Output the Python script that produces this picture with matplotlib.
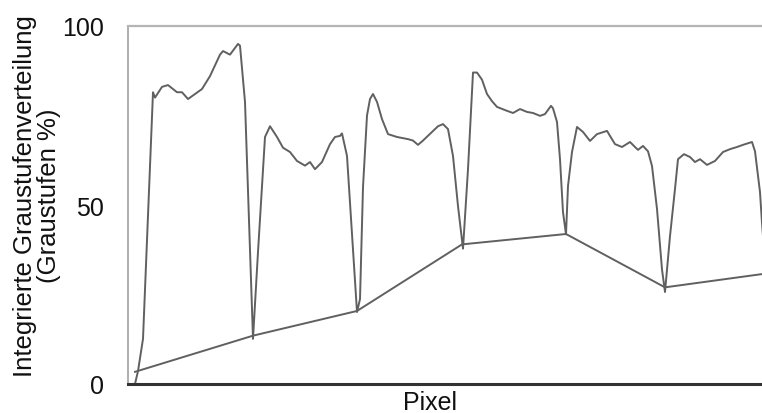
import matplotlib
matplotlib.use("Agg")
import matplotlib.pyplot as plt

plt.rcParams['font.family'] = ['Liberation Sans', 'DejaVu Sans']

# Line profile (pixel position, integrated gray level %)
pixel = [0, 7, 10, 15, 25, 27, 34, 40, 49, 54, 60, 74, 82, 92, 95, 102, 110, 112,
         117, 125, 130, 137, 142, 149, 155, 162, 169, 177, 182, 187, 194, 202, 207,
         212, 214, 219, 229, 232, 235, 239, 242, 245, 249, 254, 260, 269, 280, 285,
         290, 295, 304, 310, 315, 320, 325, 330, 335, 340, 345, 349, 354, 359, 364,
         369, 379, 385, 392, 399, 405, 412, 417, 423, 425, 429, 432, 435, 438, 440,
         444, 449, 455, 462, 469, 479, 482, 487, 494, 502, 507, 510, 515, 520, 524,
         529, 534, 537, 542, 547, 550, 556, 562, 567, 572, 579, 587, 595, 602, 609,
         615, 624, 627, 632, 634, 638]
gray = [0, 0, 3.6, 12.6, 81.5, 80, 83, 83.5, 81.5, 81.5, 79.6, 82.4, 86, 92, 93, 92,
        95, 94.5, 78.8, 12.6, 36.9, 69, 72, 69, 66, 64.8, 62.3, 61, 62, 60, 62, 67,
        69, 69.3, 70, 63.7, 20.1, 23.7, 55, 75, 79.6, 81, 78.8, 74, 69.8, 69, 68.4,
        68, 66.8, 68, 70.4, 72, 72.6, 71.2, 63.7, 49.7, 37.8, 60, 87, 87, 85, 81, 79,
        77.4, 76.3, 75.7, 76.8, 76, 75.7, 74.9, 75.4, 77.7, 77, 73.2, 62.8, 48, 41.8,
        55.3, 64.8, 71.8, 70.4, 67.9, 69.8, 70.7, 69.3, 67, 66.2, 67.6, 66.2, 65.4,
        66.5, 65, 60.9, 48.9, 32, 25.7, 41.3, 54.5, 62.8, 64.2, 63.4, 62, 62.8, 61.2,
        62.3, 64.8, 65.6, 66.2, 66.8, 67.6, 65, 53.6, 45, 30]

# Baseline connecting the minima
base_pixel = [7, 125, 229, 334, 438, 537, 634]
base_gray = [3.4, 13.5, 20.4, 39, 41.9, 27, 30.7]

yticks = [0, 50, 100]
ylabel = "Integrierte Graustufenverteilung\n(Graustufen %)"
xlabel = "Pixel"

fig = plt.figure(figsize=(7.62, 4.14), dpi=100)
ax = fig.add_axes([128/762, 1 - 385/414, 634/762, 358/414])

line_color = "#606060"
ax.plot(pixel, gray, color=line_color, lw=1.4)
ax.plot(base_pixel, base_gray, color=line_color, lw=1.4)

ax.set_xlim(0, 634)
ax.set_ylim(0, 100)
ax.set_xticks([])
ax.set_yticks(yticks)
ax.set_yticklabels([str(t) for t in yticks], fontsize=18)
ax.tick_params(axis='y', length=0, pad=17, labelcolor="#111111")

ax.spines['right'].set_visible(False)
ax.spines['top'].set_color("#b5b5b5")
ax.spines['top'].set_linewidth(1.6)
ax.spines['left'].set_color("#a8a8a8")
ax.spines['left'].set_linewidth(1.3)
ax.spines['bottom'].set_color("#333333")
ax.spines['bottom'].set_linewidth(2.2)

fig.text(37/762, 1 - 196/414, ylabel, rotation=90, ha='center', va='center',
         fontsize=18.5, color="#111111", linespacing=0.95)
fig.text(430/762, 1 - 403/414, xlabel, ha='center', va='center',
         fontsize=18, color="#111111")

fig.savefig("out.png", dpi=100)
